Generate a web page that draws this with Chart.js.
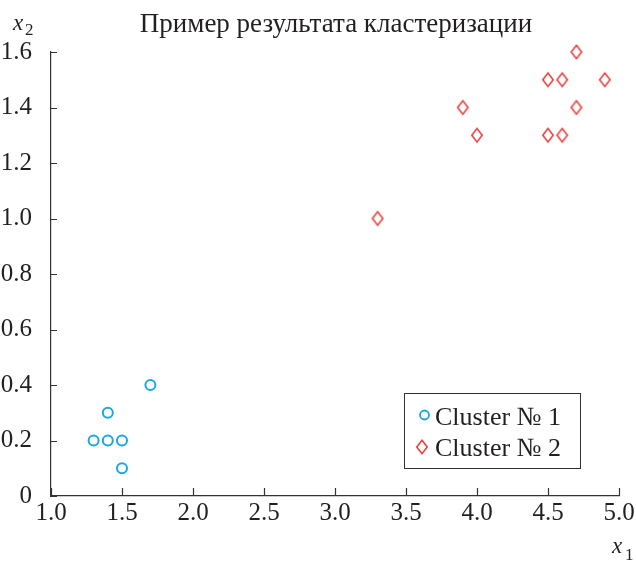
<!DOCTYPE html>
<html lang="ru">
<head>
  <meta charset="UTF-8" />
  <title>Пример результата кластеризации</title>
  <script src="https://cdn.jsdelivr.net/npm/chart.js"></script>
  <style>
    html, body { margin: 0; padding: 0; background: #fff; }
    #wrap { width: 636px; height: 561px; }
  </style>
</head>
<body>
  <div id="wrap"><canvas id="chart" width="636" height="561"></canvas></div>
  <script>
    const cluster1X = [1.3, 1.4, 1.5, 1.4, 1.5, 1.7];
    const cluster1Y = [0.2, 0.2, 0.2, 0.3, 0.1, 0.4];
    const cluster2X = [3.3, 3.9, 4.0, 4.5, 4.6, 4.7, 4.9, 4.7, 4.5, 4.6];
    const cluster2Y = [1.0, 1.4, 1.3, 1.5, 1.5, 1.6, 1.5, 1.4, 1.3, 1.3];
    const xTicks = [1.0, 1.5, 2.0, 2.5, 3.0, 3.5, 4.0, 4.5, 5.0];
    const yTicks = [0, 0.2, 0.4, 0.6, 0.8, 1.0, 1.2, 1.4, 1.6];
    const labels = ['Cluster № 1', 'Cluster № 2'];

    const BLUE = '#1aa7e6';
    const RED = '#e8423e';
    const INK = '#231f20';
    const SERIF = '"Liberation Serif", "DejaVu Serif", serif';

    // tall diamond marker (Chart.js rectRot is a square)
    function makeDiamond() {
      const c = document.createElement('canvas');
      c.width = 14; c.height = 18;
      const g = c.getContext('2d');
      g.strokeStyle = RED;
      g.lineWidth = 1.6;
      g.beginPath();
      g.moveTo(7, 2.2);
      g.lineTo(12.2, 9);
      g.lineTo(7, 15.8);
      g.lineTo(1.8, 9);
      g.closePath();
      g.stroke();
      return c;
    }
    const diamond = makeDiamond();

    const pts = (xs, ys) => xs.map((x, i) => ({ x: x, y: ys[i] }));

    const extras = {
      id: 'extras',
      afterDraw(chart) {
        const ctx = chart.ctx;
        const xs = chart.scales.x, ys = chart.scales.y;
        const a = chart.chartArea;
        ctx.save();
        // inward ticks
        ctx.strokeStyle = '#333';
        ctx.lineWidth = 1.2;
        ctx.beginPath();
        yTicks.forEach(v => {
          const py = Math.round(ys.getPixelForValue(v)) + 0.5;
          ctx.moveTo(a.left, py); ctx.lineTo(a.left + 6, py);
        });
        xTicks.forEach(v => {
          const px = Math.round(xs.getPixelForValue(v)) + 0.5;
          ctx.moveTo(px, a.bottom); ctx.lineTo(px, a.bottom - 8);
        });
        ctx.stroke();

        // title
        ctx.fillStyle = INK;
        ctx.font = '27px ' + SERIF;
        ctx.textAlign = 'center';
        ctx.textBaseline = 'alphabetic';
        ctx.fillText('Пример результата кластеризации', 336, 32);

        // axis names
        ctx.textAlign = 'left';
        ctx.font = 'italic 23px ' + SERIF;
        ctx.fillText('x', 13, 30);
        ctx.fillText('x', 612, 553);
        ctx.font = '17px ' + SERIF;
        ctx.fillText('2', 25, 35);
        ctx.fillText('1', 625, 560);

        // legend box
        ctx.strokeStyle = '#333';
        ctx.lineWidth = 1;
        ctx.strokeRect(404.5, 393.5, 176, 75);
        ctx.lineWidth = 1.8;
        ctx.strokeStyle = BLUE;
        ctx.beginPath();
        ctx.arc(424.5, 415, 4.5, 0, Math.PI * 2);
        ctx.stroke();
        ctx.drawImage(diamond, 422 - 7, 447 - 9);
        ctx.fillStyle = INK;
        ctx.font = '26px ' + SERIF;
        ctx.textBaseline = 'alphabetic';
        ctx.fillText(labels[0], 435, 425);
        ctx.fillText(labels[1], 435, 456);
        ctx.restore();
      }
    };

    new Chart(document.getElementById('chart'), {
      type: 'scatter',
      data: {
        datasets: [
          {
            label: labels[0],
            data: pts(cluster1X, cluster1Y),
            pointStyle: 'circle',
            pointRadius: 5,
            pointHoverRadius: 5,
            borderColor: BLUE,
            backgroundColor: 'rgba(0,0,0,0)',
            borderWidth: 2,
            clip: false
          },
          {
            label: labels[1],
            data: pts(cluster2X, cluster2Y),
            pointStyle: diamond,
            borderColor: RED,
            backgroundColor: 'rgba(0,0,0,0)',
            clip: false
          }
        ]
      },
      options: {
        responsive: false,
        animation: false,
        layout: { padding: { top: 52, right: 17, left: 0, bottom: 0 } },
        plugins: {
          legend: { display: false },
          title: { display: false },
          tooltip: { enabled: false }
        },
        scales: {
          x: {
            type: 'linear',
            min: 1, max: 5,
            afterBuildTicks: s => { s.ticks = xTicks.map(v => ({ value: v })); },
            afterFit: s => { s.height = 65; },
            grid: { display: false },
            border: { display: true, color: '#333', width: 1.2 },
            ticks: {
              color: INK,
              padding: -3,
              maxRotation: 0,
              font: { family: SERIF, size: 25, lineHeight: 1 },
              callback: v => v.toFixed(1)
            }
          },
          y: {
            type: 'linear',
            min: 0, max: 1.6,
            afterBuildTicks: s => { s.ticks = yTicks.map(v => ({ value: v })); },
            afterFit: s => { s.width = 51; },
            grid: { display: false },
            border: { display: true, color: '#333', width: 1.2 },
            ticks: {
              color: INK,
              padding: 11,
              font: { family: SERIF, size: 25 },
              callback: v => v === 0 ? '0' : v.toFixed(1)
            }
          }
        }
      },
      plugins: [extras]
    });
  </script>
</body>
</html>
